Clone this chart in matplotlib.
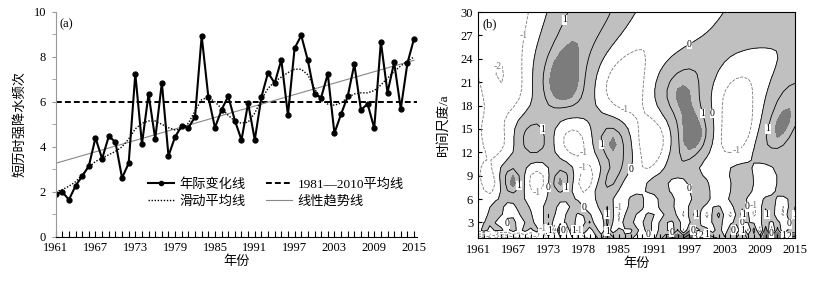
import numpy as np
import matplotlib
matplotlib.use('Agg')
import matplotlib.pyplot as plt
from matplotlib.lines import Line2D

plt.rcParams['font.family'] = ['Liberation Serif', 'Noto Sans CJK SC']
plt.rcParams['font.size'] = 9

# 数据 (a)
years = np.arange(1961, 2016)
freq = [1.9, 2.0, 1.65, 2.27, 2.7, 3.15, 4.4, 3.47, 4.47, 4.22,
        2.62, 3.27, 7.25, 4.13, 6.35, 4.35, 6.85, 3.6, 4.45, 4.93,
        4.85, 5.33, 8.93, 6.23, 4.85, 5.65, 6.25, 5.17, 4.31, 5.94,
        4.31, 6.21, 7.3, 6.83, 7.87, 5.41, 8.38, 8.95, 7.84, 6.34,
        6.19, 7.24, 4.61, 5.45, 6.24, 7.67, 5.64, 5.91, 4.83, 8.67,
        6.41, 7.75, 5.69, 7.72, 8.81]
smooth = [2.0, 2.1, 2.25, 2.45, 2.75, 3.1, 3.35, 3.5, 3.65, 3.8,
          4.0, 4.35, 4.8, 5.05, 5.15, 5.15, 5.0, 4.85, 4.75, 4.8,
          5.05, 5.6, 6.1, 6.2, 6.0, 5.7, 5.4, 5.15, 5.05, 5.1,
          5.5, 6.1, 6.6, 6.9, 7.1, 7.3, 7.45, 7.45, 7.2, 6.6,
          6.1, 5.9, 5.85, 5.95, 6.2, 6.35, 6.4, 6.4, 6.5, 6.75,
          7.05, 7.35, 7.6, 7.8, 8.0]
trend_years = [1961, 2015]
trend_vals = [3.27, 7.85]
mean_8110 = 6.0

# (b) 时间轴刻度
b_ticks = [1961, 1967, 1973, 1979, 1985, 1991, 1997, 2003, 2009, 2015]
b_ticklabels = ['1961', '1967', '1973', '1978', '1985', '1991', '1997', '2003', '2009', '2015']

fig = plt.figure(figsize=(8.15, 2.82), dpi=100)

# ---------------- (a) ----------------
ax1 = fig.add_axes([0.0683, 0.16, 0.443, 0.798])
ax1.axhline(mean_8110, color='black', lw=1.4, ls=(0, (3, 1.6)))
ax1.plot(trend_years, trend_vals, color='#888888', lw=0.8)
ax1.plot(years, smooth, color='black', lw=1.0, ls=(0, (1, 1.2)))
ax1.plot(years, freq, color='black', lw=1.5, marker='o', ms=3.5)
ax1.set_xlim(1961, 2015.4)
ax1.set_ylim(0, 10)
ax1.spines['top'].set_visible(False)
ax1.spines['right'].set_visible(False)
ax1.spines['left'].set_color('#999999')
ax1.set_xticks(range(1961, 2016, 6))
ax1.set_xticks(range(1961, 2016), minor=True)
ax1.tick_params(axis='x', which='both', direction='in', length=4, width=0.8, pad=4)
ax1.set_yticks(range(0, 11, 2))
ax1.set_yticks(range(1, 10, 2), minor=True)
ax1.tick_params(axis='y', which='both', direction='out', length=3, color='#999999', pad=4)
ax1.set_xlabel('年份', fontsize=9.5, labelpad=1)
ax1.set_ylabel('短历时强降水频次', fontsize=9.5, labelpad=5)
ax1.text(0.012, 0.945, '(a)', transform=ax1.transAxes, fontsize=9, va='center')

handles = [
    Line2D([], [], color='black', lw=1.5, marker='o', ms=3),
    Line2D([], [], color='black', lw=1.4, ls=(0, (3, 1.6))),
    Line2D([], [], color='black', lw=1.0, ls=(0, (1, 1.2))),
    Line2D([], [], color='#888888', lw=0.8),
]
labels = ['年际变化线', '1981—2010平均线', '滑动平均线', '线性趋势线']
ax1.legend([handles[0], handles[2], handles[1], handles[3]],
           [labels[0], labels[2], labels[1], labels[3]],
           ncol=2, frameon=False, loc='center', bbox_to_anchor=(0.61, 0.195),
           fontsize=9.5, handlelength=2.0, handletextpad=0.4, columnspacing=1.5,
           labelspacing=0.3)

# ---------------- (b) Morlet 小波实部 (标准化序列) ----------------
arr = np.array(freq)
x = (arr - arr.mean()) / arr.std()
t = years.astype(float)
c = 6.2
scales = np.arange(1, 31)
W = np.zeros((len(scales), len(t)))
for i, s in enumerate(scales):
    u = (t[None, :] - t[:, None]) / s
    psi = np.exp(-u ** 2 / 2) * np.cos(c * u)
    W[i] = psi @ x / np.sqrt(s)

ax2 = fig.add_axes([0.5865, 0.156, 0.389, 0.801])
ax2.contourf(t, scales, W, levels=[0, 1.5, 100], colors=['#c0c0c0', '#7c7c7c'])
neg = ax2.contour(t, scales, W, levels=[-4, -3, -2, -1], colors='#777777',
                  linewidths=0.6, linestyles='dashed')
pos = ax2.contour(t, scales, W, levels=[0, 1, 2, 3, 4], colors='black',
                  linewidths=0.6, linestyles='solid')
kept = []
for cs in (neg, pos):
    lbls = ax2.clabel(cs, fmt='%d', fontsize=7, inline=True, inline_spacing=1)
    for lb in lbls:
        px, py = lb.get_position()
        if any(abs(px - qx) < 0.9 and abs(py - qy) < 0.7 for qx, qy in kept):
            lb.remove()
        else:
            kept.append((px, py))
            lb.set_rotation(0)
            lb.set_bbox(dict(facecolor='white', edgecolor='none', pad=0.2))
ax2.set_xlim(1961, 2015)
ax2.set_ylim(1, 30)
ax2.set_xticks(b_ticks)
ax2.set_xticklabels(b_ticklabels)
ax2.set_xticks(range(1961, 2016), minor=True)
ax2.set_yticks(range(3, 31, 3))
ax2.tick_params(axis='x', which='both', direction='in', length=3, width=0.8, pad=4)
ax2.tick_params(axis='y', direction='in', length=3)
ax2.set_xlabel('年份', fontsize=9.5, labelpad=1)
ax2.set_ylabel('时间尺度/a', fontsize=9.5, labelpad=8)
ax2.text(0.015, 0.945, '(b)', transform=ax2.transAxes, fontsize=9, va='center',
         bbox=dict(facecolor='white', edgecolor='none', pad=0.5))

fig.savefig('out.png', dpi=100)
